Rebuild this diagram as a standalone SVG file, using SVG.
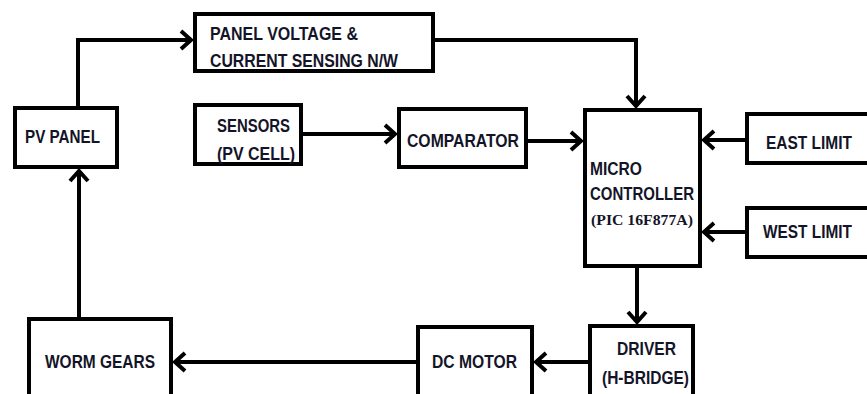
<svg xmlns="http://www.w3.org/2000/svg" width="867" height="394" viewBox="0 0 867 394">
<defs>
<style>
.box{fill:#fff;stroke:#000;stroke-width:4}
.t{font-family:"Liberation Sans",Arial,sans-serif;font-weight:bold;font-size:18px;fill:#141428}
.s{font-family:"Liberation Serif","Times New Roman",serif;font-weight:bold;font-size:14px;fill:#141428}
.c{fill:none;stroke:#000;stroke-width:4}
</style>
<marker id="ah" markerUnits="userSpaceOnUse" markerWidth="24" markerHeight="24" viewBox="-14 -12 16 24" refX="0" refY="0" orient="auto">
<path d="M-10,-9 L0,0 L-10,9" fill="none" stroke="#000" stroke-width="4" stroke-linejoin="miter"/>
</marker>
</defs>
<rect width="867" height="394" fill="#fff"/>
<g id="connectors">
<path class="c" d="M78,106 V40 H191" marker-end="url(#ah)"/>
<path class="c" d="M435,40 H636 V106" marker-end="url(#ah)"/>
<path class="c" d="M303,134 H395" marker-end="url(#ah)"/>
<path class="c" d="M528,141 H581" marker-end="url(#ah)"/>
<path class="c" d="M745,140 H704" marker-end="url(#ah)"/>
<path class="c" d="M745,232 H704" marker-end="url(#ah)"/>
<path class="c" d="M637,268 V322" marker-end="url(#ah)"/>
<path class="c" d="M588,362 H536" marker-end="url(#ah)"/>
<path class="c" d="M416,362 H175" marker-end="url(#ah)"/>
<path class="c" d="M79,317 V171" marker-end="url(#ah)"/>
</g>
<g id="panel-voltage">
<rect class="box" x="195" y="14" width="238" height="57"/>
<text class="t" x="210" y="40" textLength="148" lengthAdjust="spacingAndGlyphs">PANEL VOLTAGE &amp;</text>
<text class="t" x="210" y="67" textLength="188" lengthAdjust="spacingAndGlyphs">CURRENT SENSING N/W</text>
</g>
<g id="pv-panel">
<rect class="box" x="15" y="108" width="102" height="59"/>
<text class="t" x="25" y="143" font-size="17" textLength="75" lengthAdjust="spacingAndGlyphs">PV PANEL</text>
</g>
<g id="sensors">
<rect class="box" x="195" y="105" width="106" height="59"/>
<text class="t" x="217" y="132" textLength="73" lengthAdjust="spacingAndGlyphs">SENSORS</text>
<text class="t" x="217" y="160" textLength="78" lengthAdjust="spacingAndGlyphs">(PV CELL)</text>
</g>
<g id="comparator">
<rect class="box" x="399" y="109" width="127" height="58"/>
<text class="t" x="407" y="147" textLength="112" lengthAdjust="spacingAndGlyphs">COMPARATOR</text>
</g>
<g id="micro-controller">
<rect class="box" x="585" y="110" width="115" height="156"/>
<text class="t" x="590" y="175" textLength="52" lengthAdjust="spacingAndGlyphs">MICRO</text>
<text class="t" x="590" y="200" textLength="104" lengthAdjust="spacingAndGlyphs">CONTROLLER</text>
<text class="s" x="591" y="225" textLength="102" lengthAdjust="spacingAndGlyphs">(PIC 16F877A)</text>
</g>
<g id="east-limit">
<rect class="box" x="747" y="114" width="130" height="49"/>
<text class="t" x="766" y="149" textLength="86" lengthAdjust="spacingAndGlyphs">EAST LIMIT</text>
</g>
<g id="west-limit">
<rect class="box" x="747" y="208" width="130" height="49"/>
<text class="t" x="763" y="238" textLength="89" lengthAdjust="spacingAndGlyphs">WEST LIMIT</text>
</g>
<g id="driver">
<rect class="box" x="590" y="326" width="103" height="80"/>
<text class="t" x="617" y="355" textLength="59" lengthAdjust="spacingAndGlyphs">DRIVER</text>
<text class="t" x="602" y="384" textLength="87" lengthAdjust="spacingAndGlyphs">(H-BRIDGE)</text>
</g>
<g id="dc-motor">
<rect class="box" x="418" y="327" width="114" height="80"/>
<text class="t" x="432" y="368" textLength="85" lengthAdjust="spacingAndGlyphs">DC MOTOR</text>
</g>
<g id="worm-gears">
<rect class="box" x="29" y="319" width="142" height="90"/>
<text class="t" x="45" y="368" textLength="110" lengthAdjust="spacingAndGlyphs">WORM GEARS</text>
</g>
</svg>
